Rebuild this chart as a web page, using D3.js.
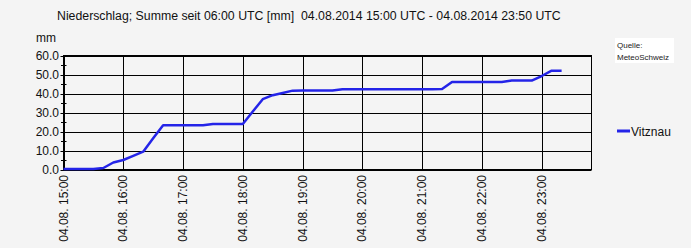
<!DOCTYPE html>
<html>
<head>
<meta charset="utf-8">
<script src="https://cdn.jsdelivr.net/npm/d3@7"></script>
<style>
  body { margin: 0; background: #f4f4f4; }
  svg { display: block; font-family: "Liberation Sans", Arial, sans-serif; }
</style>
</head>
<body>
<script>
// 10-minute values, starting 04.08.2014 15:00 UTC
const times = ["15:00","15:10","15:20","15:30","15:40","15:50","16:00","16:10","16:20","16:30","16:40","16:50",
  "17:00","17:10","17:20","17:30","17:40","17:50","18:00","18:10","18:20","18:30","18:40","18:50",
  "19:00","19:10","19:20","19:30","19:40","19:50","20:00","20:10","20:20","20:30","20:40","20:50",
  "21:00","21:10","21:20","21:30","21:40","21:50","22:00","22:10","22:20","22:30","22:40","22:50",
  "23:00","23:10","23:20"]
const vitznau = [0.3,0.3,0.3,0.3,0.8,3.7,5.0,7.2,9.4,16.5,23.3,23.3,
  23.3,23.3,23.3,23.9,23.9,23.9,23.9,30.5,37.0,39.1,40.3,41.5,
  41.6,41.6,41.6,41.6,42.2,42.2,42.2,42.2,42.2,42.2,42.2,42.2,
  42.2,42.2,42.4,46.1,46.1,46.1,46.1,46.1,46.1,46.8,46.8,46.8,
  49.2,52.0,52.0]
const yTicks = [0, 10, 20, 30, 40, 50, 60]
const hourTicks = ["15:00","16:00","17:00","18:00","19:00","20:00","21:00","22:00","23:00"]

const width = 691, height = 248
const plotLeft = 63.5, plotRight = 591.5, plotTop = 55.5, plotBottom = 169.5

const parse = (t) => new Date(Date.UTC(2014, 7, 4, +t.slice(0, 2), +t.slice(3)))

const svg = d3.select("body").append("svg")
  .attr("width", width)
  .attr("height", height)

const x = d3.scaleUtc()
  .domain([parse("15:00"), parse("23:50")])
  .range([plotLeft, plotRight])
const y = d3.scaleLinear()
  .domain([0, 60])
  .range([plotBottom, plotTop])

// title
svg.append("text")
  .attr("x", 57).attr("y", 20)
  .attr("font-size", 12.3)
  .attr("fill", "#111")
  .style("white-space", "pre")
  .text("Niederschlag; Summe seit 06:00 UTC [mm]  04.08.2014 15:00 UTC - 04.08.2014 23:50 UTC")

svg.append("text")
  .attr("x", 36).attr("y", 42)
  .attr("font-size", 12)
  .attr("fill", "#111")
  .text("mm")

// grid
svg.append("g").selectAll("line")
  .data(yTicks)
  .join("line")
  .attr("x1", plotLeft - 3).attr("x2", plotRight)
  .attr("y1", (d) => Math.round(y(d)) + 0.5).attr("y2", (d) => Math.round(y(d)) + 0.5)
  .attr("stroke", "#000")

svg.append("g").selectAll("line")
  .data(hourTicks)
  .join("line")
  .attr("x1", (d) => Math.round(x(parse(d))) + 0.5).attr("x2", (d) => Math.round(x(parse(d))) + 0.5)
  .attr("y1", plotTop).attr("y2", plotBottom)
  .attr("stroke", "#000")

// minor ticks
svg.append("g").selectAll("line")
  .data(yTicks.slice(1).map((d) => d - 5))
  .join("line")
  .attr("x1", plotLeft - 2.5).attr("x2", plotLeft + 3)
  .attr("y1", (d) => Math.round(y(d)) + 0.5).attr("y2", (d) => Math.round(y(d)) + 0.5)
  .attr("stroke", "#000")

// frame
svg.append("rect")
  .attr("x", plotLeft).attr("y", plotTop)
  .attr("width", plotRight - plotLeft).attr("height", plotBottom - plotTop)
  .attr("fill", "none")
  .attr("stroke", "#000")

// y labels
svg.append("g").selectAll("text")
  .data(yTicks)
  .join("text")
  .attr("x", 59)
  .attr("y", (d) => y(d) + 4)
  .attr("text-anchor", "end")
  .attr("font-size", 12)
  .attr("fill", "#111")
  .text((d) => d.toFixed(1))

// x labels, rotated
svg.append("g").selectAll("text")
  .data(hourTicks)
  .join("text")
  .attr("transform", (d) => `translate(${x(parse(d)) + 4},175) rotate(-90)`)
  .attr("text-anchor", "end")
  .attr("font-size", 12)
  .attr("fill", "#111")
  .text((d) => "04.08. " + d)

// line
const line = d3.line()
  .x((d, i) => x(parse(times[i])))
  .y((d) => y(d))
svg.append("path")
  .datum(vitznau)
  .attr("d", line)
  .attr("fill", "none")
  .attr("stroke", "#2424e8")
  .attr("stroke-width", 2.5)
  .attr("stroke-linejoin", "round")

// source box
svg.append("rect")
  .attr("x", 615).attr("y", 38)
  .attr("width", 59).attr("height", 25)
  .attr("fill", "#fff")
svg.append("text")
  .attr("x", 617).attr("y", 48)
  .attr("font-size", 8)
  .attr("fill", "#222")
  .text("Quelle:")
svg.append("text")
  .attr("x", 617).attr("y", 60)
  .attr("font-size", 8)
  .attr("fill", "#222")
  .text("MeteoSchweiz")

// legend
svg.append("line")
  .attr("x1", 617).attr("x2", 630)
  .attr("y1", 131).attr("y2", 131)
  .attr("stroke", "#2424e8")
  .attr("stroke-width", 3)
svg.append("text")
  .attr("x", 631).attr("y", 136)
  .attr("font-size", 12)
  .attr("fill", "#111")
  .text("Vitznau")
</script>
</body>
</html>
